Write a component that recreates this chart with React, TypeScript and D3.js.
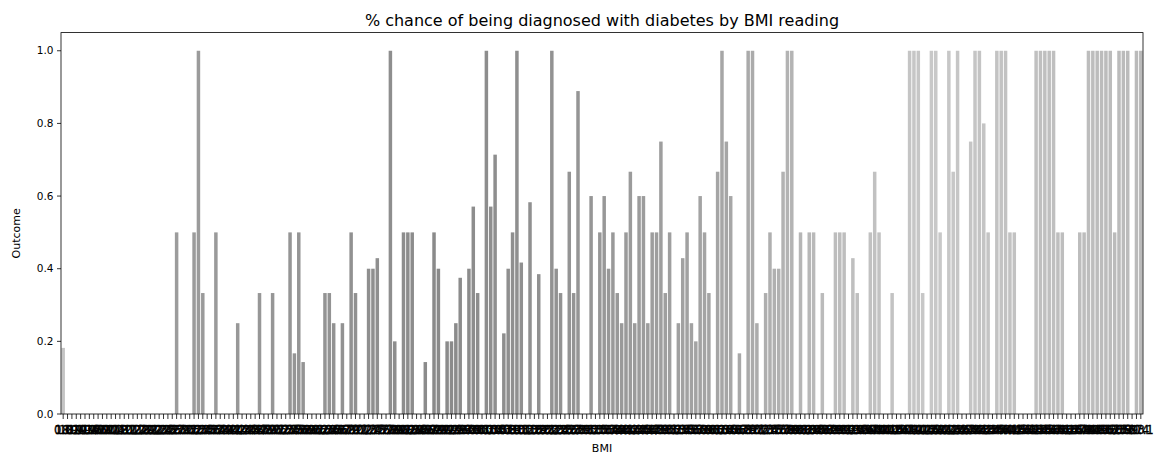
import React, { useEffect } from "react";
import * as d3 from "d3";

const bmiLabels: string[] = [
  "0.0","18.2","18.4","19.1","19.3","19.4","19.5","19.6","19.9","20.0",
  "20.1","20.4","20.8","21.0","21.1","21.2","21.7","21.8","21.9","22.1",
  "22.2","22.3","22.4","22.5","22.6","22.7","22.9",
  "23.0","23.1","23.2","23.3","23.4","23.5","23.6","23.7","23.8","23.9",
  "24.0","24.1","24.2","24.3","24.4","24.5","24.6","24.7","24.8","24.9",
  "25.0","25.1","25.2","25.3","25.4","25.5","25.6","25.8","25.9",
  "26.0","26.1","26.2","26.3","26.4","26.5","26.6","26.7","26.8","26.9",
  "27.0","27.1","27.2","27.3","27.4","27.5","27.6","27.7","27.8","27.9",
  "28.0","28.1","28.2","28.3","28.4","28.5","28.6","28.7","28.8","28.9",
  "29.0","29.2","29.3","29.5","29.6","29.7","29.8","29.9",
  "30.0","30.1","30.2","30.3","30.4","30.5","30.7","30.8","30.9",
  "31.0","31.1","31.2","31.3","31.6","31.9",
  "32.0","32.1","32.2","32.3","32.4","32.5","32.6","32.7","32.8","32.9",
  "33.1","33.2","33.3","33.5","33.6","33.7","33.8","33.9",
  "34.0","34.1","34.2","34.3","34.4","34.5","34.6","34.7","34.8","34.9",
  "35.0","35.1","35.2","35.3","35.4","35.5","35.6","35.7","35.8","35.9",
  "36.0","36.1","36.2","36.3","36.4","36.5","36.6","36.7","36.8","36.9",
  "37.0","37.1","37.2","37.3","37.4","37.5","37.6","37.7","37.8","37.9",
  "38.0","38.1","38.2","38.3","38.4","38.5","38.6","38.7","38.8","38.9",
  "39.0","39.1","39.2","39.3","39.4","39.5","39.6","39.7","39.8","39.9",
  "40.0","40.1","40.2","40.5","40.6","40.7","40.8","40.9",
  "41.0","41.2","41.3","41.5","41.8",
  "42.0","42.1","42.2","42.3","42.4","42.6","42.7","42.8","42.9",
  "43.1","43.2","43.3","43.4","43.5","43.6","44.0","44.1","44.2","44.5",
  "44.6","45.0","45.2","45.3","45.4","45.5","45.6","45.7","45.8","46.1",
  "46.2","46.3","46.5","46.7","46.8",
  "47.9","48.3","48.8","49.3","49.6","49.7","50.0","52.3","52.9","53.2",
  "55.0","57.3","59.4","67.1",
];

const outcomeRates: number[] = [
  0.182, 0, 0, 0, 0, 0, 0, 0, 0, 0,
  0, 0, 0, 0, 0, 0, 0, 0, 0, 0,
  0, 0, 0, 0, 0, 0, 0.5, 0, 0, 0,
  0.5, 1, 0.333, 0, 0, 0.5, 0, 0, 0, 0,
  0.25, 0, 0, 0, 0, 0.333, 0, 0, 0.333, 0,
  0, 0, 0.5, 0.167, 0.5, 0.143, 0, 0, 0, 0,
  0.333, 0.333, 0.25, 0, 0.25, 0, 0.5, 0.333, 0, 0,
  0.4, 0.4, 0.429, 0, 0, 1, 0.2, 0, 0.5, 0.5,
  0.5, 0, 0, 0.143, 0, 0.5, 0.4, 0, 0.2, 0.2,
  0.25, 0.375, 0, 0.4, 0.571, 0.333, 0, 1, 0.571, 0.714,
  0, 0.222, 0.4, 0.5, 1, 0.417, 0, 0.583, 0, 0.385,
  0, 0, 1, 0.4, 0.333, 0, 0.667, 0.333, 0.889, 0,
  0, 0.6, 0, 0.5, 0.6, 0.4, 0.5, 0.333, 0.25, 0.5,
  0.667, 0.25, 0.6, 0.6, 0.25, 0.5, 0.5, 0.75, 0.333, 0.5,
  0, 0.25, 0.429, 0.5, 0.25, 0.2, 0.6, 0.5, 0.333, 0,
  0.667, 1, 0.75, 0.6, 0, 0.167, 0, 1, 1, 0.25,
  0, 0.333, 0.5, 0.4, 0.4, 0.667, 1, 1, 0, 0.5,
  0, 0.5, 0.5, 0, 0.333, 0, 0, 0.5, 0.5, 0.5,
  0, 0.429, 0.333, 0, 0, 0.5, 0.667, 0.5, 0, 0,
  0.333, 0, 0, 0, 1, 1, 1, 0.333, 0, 1,
  1, 0.5, 0, 1, 0.667, 1, 0, 0, 0.75, 1,
  1, 0.8, 0.5, 0, 1, 1, 1, 0.5, 0.5, 0,
  0, 0, 0, 1, 1, 1, 1, 1, 0.5, 0.5,
  0, 0, 0, 0.5, 0.5, 1, 1, 1, 1, 1,
  1, 0.5, 1, 1, 1, 0, 1, 1,
];

const yTicks: number[] = [0, 0.2, 0.4, 0.6, 0.8, 1.0];

// bar shade gradient (style)
const shadeDomain = [0, 26, 60, 85, 110, 135, 155, 175, 200, 225, 247];
const shadeRange = ["#c4c4c4", "#9c9c9c", "#939393", "#8a8a8a", "#919191", "#9d9d9d", "#a8a8a8", "#bcbcbc", "#c8c8c8", "#bfbfbf", "#bababa"];

const W = 1158;
const H = 456;
const left = 61;
const right = 1143;
const top = 32.6;
const bottom = 414;

export default function App() {
  useEffect(() => {
    document.body.style.margin = "0";
  }, []);

  const x = d3
    .scaleBand<number>()
    .domain(d3.range(bmiLabels.length))
    .range([left, right])
    .paddingInner(0.2)
    .paddingOuter(0.1);
  const y = d3.scaleLinear().domain([0, 1.05]).range([bottom, top]);
  const shade = d3.scaleLinear<string>().domain(shadeDomain).range(shadeRange).interpolate(d3.interpolateRgb);
  const font = "DejaVu Sans, sans-serif";

  return (
    <svg width={W} height={H} style={{ display: "block", position: "absolute", left: 0, top: 0 }} fontFamily={font}>
      <rect x={0} y={0} width={W} height={H} fill="#fff" />
      {outcomeRates.map((v, i) => (
        <rect key={i} x={x(i)!} y={y(v)} width={x.bandwidth()} height={bottom - y(v)} fill={shade(i)} />
      ))}
      <rect x={left} y={top} width={right - left} height={bottom - top} fill="none" stroke="#000" strokeWidth={0.8} />
      {yTicks.map((t) => (
        <g key={t}>
          <line x1={left - 4} x2={left} y1={y(t)} y2={y(t)} stroke="#000" strokeWidth={0.8} />
          <text x={left - 7.5} y={y(t)} dy="0.35em" textAnchor="end" fontSize={10.5} fill="#000">
            {t.toFixed(1)}
          </text>
        </g>
      ))}
      {bmiLabels.map((lab, i) => {
        const cx = x(i)! + x.bandwidth() / 2;
        return (
          <g key={i}>
            <line x1={cx} x2={cx} y1={bottom} y2={bottom + 5} stroke="#000" strokeWidth={0.8} />
            <text x={cx} y={434} textAnchor="middle" fontSize={11.5} fill="#000" stroke="#000" strokeWidth={0.35}>
              {lab}
            </text>
          </g>
        );
      })}
      <text x={(left + right) / 2} y={452} textAnchor="middle" fontSize={11} fill="#000">
        BMI
      </text>
      <text
        transform={`translate(20, ${(top + bottom) / 2 + 10}) rotate(-90)`}
        textAnchor="middle"
        fontSize={11}
        fill="#000"
      >
        Outcome
      </text>
      <text x={(left + right) / 2} y={top - 7} textAnchor="middle" fontSize={16} fill="#000">
        % chance of being diagnosed with diabetes by BMI reading
      </text>
    </svg>
  );
}
